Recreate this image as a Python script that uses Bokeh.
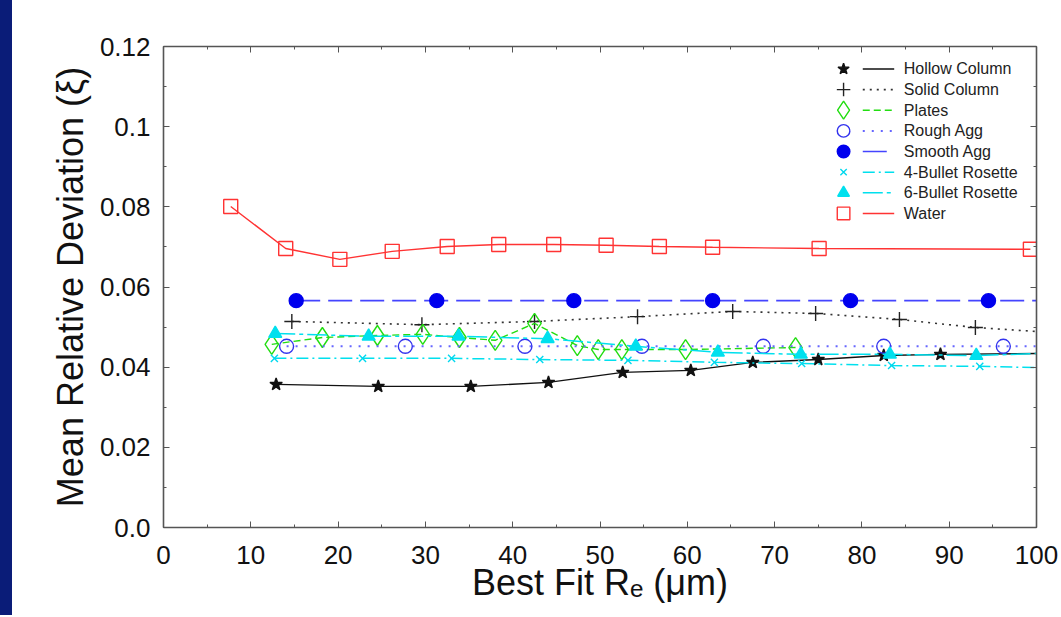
import math
from bokeh.plotting import figure
from bokeh.layouts import row
from bokeh.models import Range1d, LinearAxis, SingleIntervalTicker, Spacer
from bokeh.core.properties import value
from bokeh.embed import file_html
from bokeh.resources import INLINE

# ---------------- data ----------------
series_names = ["Hollow Column", "Solid Column", "Plates", "Rough Agg",
                "Smooth Agg", "4-Bullet Rosette", "6-Bullet Rosette", "Water"]

hollow_x = [12.9, 24.6, 35.2, 44.1, 52.6, 60.4, 67.5, 75.0, 82.5, 89.0, 100.0]
hollow_y = [0.0357, 0.0352, 0.0352, 0.0362, 0.0387, 0.0392, 0.0412, 0.0419, 0.0429, 0.0432, 0.0434]

solid_x = [14.7, 29.6, 42.5, 54.3, 65.2, 74.7, 84.3, 93.0, 100.0]
solid_y = [0.0514, 0.0506, 0.0514, 0.0526, 0.0539, 0.0534, 0.0519, 0.0499, 0.0489]

plates_x = [12.4, 18.2, 24.5, 29.7, 33.9, 38.0, 42.5, 47.4, 49.8, 52.5, 59.8, 72.4]
plates_y = [0.0457, 0.0474, 0.0479, 0.0482, 0.0474, 0.0467, 0.0509, 0.0454, 0.0444, 0.0444, 0.0444, 0.0449]

rough_x = [14.1, 27.7, 41.4, 54.8, 68.7, 82.5, 96.2, 100.0]
rough_y = [0.0452, 0.0452, 0.0452, 0.0452, 0.0452, 0.0452, 0.0452, 0.0452]

smooth_x = [15.2, 31.3, 47.0, 62.9, 78.7, 94.5, 100.0]
smooth_y = [0.0566, 0.0566, 0.0566, 0.0566, 0.0566, 0.0566, 0.0566]

b4_x = [12.7, 22.8, 33.0, 43.1, 53.2, 63.1, 73.1, 83.4, 93.5, 100.0]
b4_y = [0.0422, 0.0422, 0.0422, 0.0419, 0.0417, 0.0412, 0.0409, 0.0404, 0.0402, 0.0399]

b6_x = [12.8, 23.5, 33.8, 44.0, 54.1, 63.5, 73.0, 83.2, 93.1, 100.0]
b6_y = [0.0484, 0.0477, 0.0477, 0.0471, 0.0452, 0.0437, 0.0432, 0.0432, 0.0429, 0.0434]

water_x = [7.7, 14.0, 20.2, 26.2, 32.5, 38.4, 44.7, 50.7, 56.8, 62.9, 75.1, 99.3]
water_y = [0.0801, 0.0696, 0.0669, 0.0689, 0.0701, 0.0706, 0.0706, 0.0704, 0.0701, 0.0699, 0.0696, 0.0694]

# whether the last point only extends the line to the axis end (no marker)
series_tail = [True, True, False, True, True, True, True, False]

y_tick_labels = {0: "0.0", 0.02: "0.02", 0.04: "0.04", 0.06: "0.06",
                 0.08: "0.08", 0.1: "0.1", 0.12: "0.12"}

# ---------------- styles ----------------
FONT = "Liberation Sans"
NAVY = "#0a1c78"
styles = [
    dict(color="#111111", dash="solid", width=1.4, marker="star", size=13, fill="#111111", mcolor="#111111"),
    dict(color="#333333", dash="2 5", width=1.6, marker="cross", size=15, fill=None, mcolor="#222222"),
    dict(color="#22dd11", dash="7 4", width=1.4, marker="diamond", size=20, fill=None, mcolor="#22dd11"),
    dict(color="#6666ff", dash="2 7", width=2.0, marker="circle", size=14, fill=None, mcolor="#3333ee"),
    dict(color="#4444ff", dash="24 8", width=1.6, marker="circle", size=14, fill="#0000ee", mcolor="#0000ee"),
    dict(color="#00e0ee", dash="12 4 2 4", width=1.5, marker="x", size=10, fill=None, mcolor="#00d8ee"),
    dict(color="#00e0ee", dash="20 4 4 4", width=1.5, marker="triangle", size=13, fill="#00e0ee", mcolor="#00e0ee"),
    dict(color="#ff3333", dash="solid", width=1.4, marker="square", size=14, fill=None, mcolor="#ff3333"),
]

all_x = [hollow_x, solid_x, plates_x, rough_x, smooth_x, b4_x, b6_x, water_x]
all_y = [hollow_y, solid_y, plates_y, rough_y, smooth_y, b4_y, b6_y, water_y]

p = figure(frame_width=873, frame_height=481,
           min_border_left=151, min_border_right=25,
           min_border_top=46, min_border_bottom=88,
           x_range=Range1d(0, 100), y_range=Range1d(0, 0.12),
           output_backend="svg", toolbar_location=None)
p.background_fill_color = "white"
p.border_fill_color = "white"
p.outline_line_color = None
p.xgrid.visible = False
p.ygrid.visible = False

p.xaxis.ticker = SingleIntervalTicker(interval=10, num_minor_ticks=2)
p.yaxis.ticker = SingleIntervalTicker(interval=0.02, num_minor_ticks=2)
p.yaxis.major_label_overrides = y_tick_labels


def style_axis(ax, show_labels):
    ax.axis_line_color = "#555555"
    ax.axis_line_width = 1.6
    ax.major_tick_line_color = "#555555"
    ax.minor_tick_line_color = "#555555"
    ax.major_tick_in = 6
    ax.major_tick_out = 0
    ax.minor_tick_in = 3
    ax.minor_tick_out = 0
    if show_labels:
        ax.major_label_text_font = FONT
        ax.major_label_text_font_size = "26px"
        ax.major_label_text_color = "#111111"
    else:
        ax.major_label_text_font_size = "1px"
        ax.major_label_text_color = None
        ax.major_label_standoff = 0


style_axis(p.xaxis[0], True)
style_axis(p.yaxis[0], True)
p.xaxis[0].major_label_standoff = 18
p.yaxis[0].major_label_standoff = 13

p.yaxis[0].axis_label = "Mean Relative Deviation (\u03be)"
p.yaxis[0].axis_label_text_font = FONT
p.yaxis[0].axis_label_text_font_size = "36px"
p.yaxis[0].axis_label_text_font_style = "normal"
p.yaxis[0].axis_label_text_color = "#111111"
p.yaxis[0].axis_label_standoff = 6

p.xaxis[0].axis_label = "Best Fit R\u2091 (\u03bcm)"
p.xaxis[0].axis_label_text_font = FONT
p.xaxis[0].axis_label_text_font_size = "36px"
p.xaxis[0].axis_label_text_font_style = "normal"
p.xaxis[0].axis_label_text_color = "#111111"
p.xaxis[0].axis_label_standoff = -5

top_ax = LinearAxis(ticker=SingleIntervalTicker(interval=10, num_minor_ticks=2))
right_ax = LinearAxis(ticker=SingleIntervalTicker(interval=0.02, num_minor_ticks=2))
style_axis(top_ax, False)
style_axis(right_ax, False)
p.add_layout(top_ax, "above")
p.add_layout(right_ax, "right")

# ---------------- series ----------------
for xs, ys, st, tail in zip(all_x, all_y, styles, series_tail):
    p.line(xs, ys, line_color=st["color"], line_dash=st["dash"], line_width=st["width"])
    mx = xs[:-1] if tail else xs
    my = ys[:-1] if tail else ys
    p.scatter(mx, my, marker=st["marker"], size=st["size"],
              line_color=st["mcolor"], line_width=1.4,
              fill_color=st["fill"] if st["fill"] else "white",
              fill_alpha=1.0 if st["fill"] else 0.0)

# ---------------- legend (drawn inside the frame, in data units) ----------------
LEG_MARK_X = 77.9
LEG_LINE_X0, LEG_LINE_X1 = 80.1, 83.7
LEG_TEXT_X = 84.8
LEG_TOP = 0.1144
LEG_STEP = 0.00515

for i, (name, st) in enumerate(zip(series_names, styles)):
    yy = LEG_TOP - i * LEG_STEP
    p.line([LEG_LINE_X0, LEG_LINE_X1], [yy, yy], line_color=st["color"],
           line_dash=st["dash"], line_width=st["width"])
    p.scatter([LEG_MARK_X], [yy], marker=st["marker"], size=st["size"] * 0.9,
              line_color=st["mcolor"], line_width=1.4,
              fill_color=st["fill"] if st["fill"] else "white",
              fill_alpha=1.0 if st["fill"] else 0.0)

leg_y = [LEG_TOP - i * LEG_STEP for i in range(len(series_names))]
p.text(x=[LEG_TEXT_X] * len(series_names), y=leg_y, text=series_names,
       text_font=value(FONT), text_font_size="16px", text_color="#222222",
       text_baseline="middle", text_align="left")

# navy slide background strip on the left
left_strip = Spacer(width=12, height=615, styles={"background-color": NAVY})
page = row(left_strip, p, spacing=0)

open("out.html", "w").write(file_html(page, INLINE))
